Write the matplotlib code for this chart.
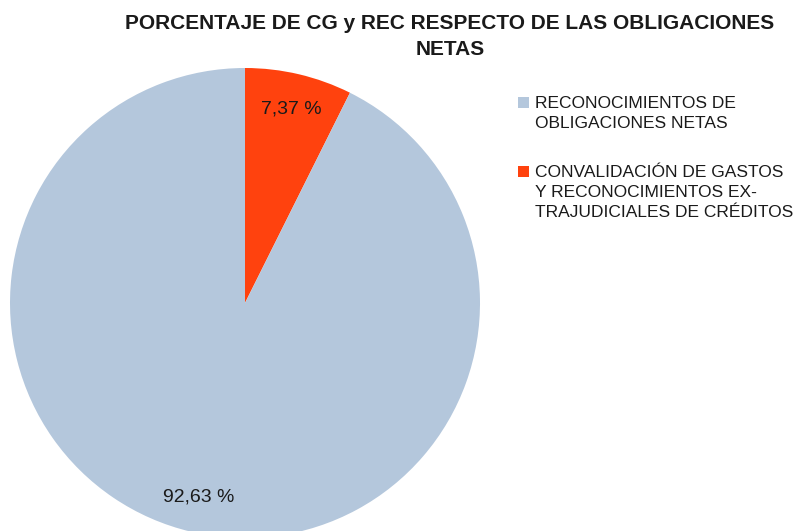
import matplotlib
matplotlib.use('Agg')
import matplotlib.pyplot as plt
from matplotlib.patches import Rectangle
import numpy as np

plt.rcParams['font.family'] = ['Liberation Sans', 'DejaVu Sans']

title = "PORCENTAJE DE CG y REC RESPECTO DE LAS OBLIGACIONES\nNETAS"
labels = ["RECONOCIMIENTOS DE\nOBLIGACIONES NETAS",
          "CONVALIDACIÓN DE GASTOS\nY RECONOCIMIENTOS EX-\nTRAJUDICIALES DE CRÉDITOS"]
values = [92.63, 7.37]
pct_labels = ["92,63 %", "7,37 %"]
colors = ["#b4c7dc", "#ff420e"]

W, H = 811, 531
fig = plt.figure(figsize=(W / 100, H / 100), dpi=100)
cx, cy, r = 245, 303, 235
ax = fig.add_axes([(cx - r) / W, (H - cy - r) / H, 2 * r / W, 2 * r / H])

# pie drawn starting at 12 o'clock, clockwise, red slice first
order = [1, 0]
wedges, _ = ax.pie([values[i] for i in order], colors=[colors[i] for i in order],
                   startangle=90, counterclock=False, radius=1,
                   wedgeprops=dict(linewidth=0))
ax.set_xlim(-1, 1)
ax.set_ylim(-1, 1)
ax.axis('off')

for w, i in zip(wedges, order):
    mid = np.deg2rad((w.theta1 + w.theta2) / 2)
    d = 0.85
    ax.text(d * np.cos(mid), d * np.sin(mid), pct_labels[i], ha='center', va='center',
            fontsize=14, color='#1a1a1a')

# title, line by line
for k, line in enumerate(title.split('\n')):
    fig.text(450 / W, 1 - (29 + 26 * k) / H, line, ha='center', va='baseline',
             fontsize=15, fontweight='bold', color='#1a1a1a')

# legend (drawn manually: square aligned with the first text line)
handles = [wedges[order.index(i)] for i in range(len(labels))]
entry_top = [97, 166]
for h, lab, top in zip(handles, labels, entry_top):
    fig.add_artist(Rectangle((518 / W, 1 - (top + 11) / H), 11 / W, 11 / H,
                             transform=fig.transFigure, facecolor=h.get_facecolor(),
                             edgecolor='none'))
    for k, line in enumerate(lab.split('\n')):
        fig.text(535 / W, 1 - (top + 11 + 20 * k) / H, line, ha='left', va='baseline',
                 fontsize=12.5, color='#1a1a1a')

fig.savefig('out.png', dpi=100)
